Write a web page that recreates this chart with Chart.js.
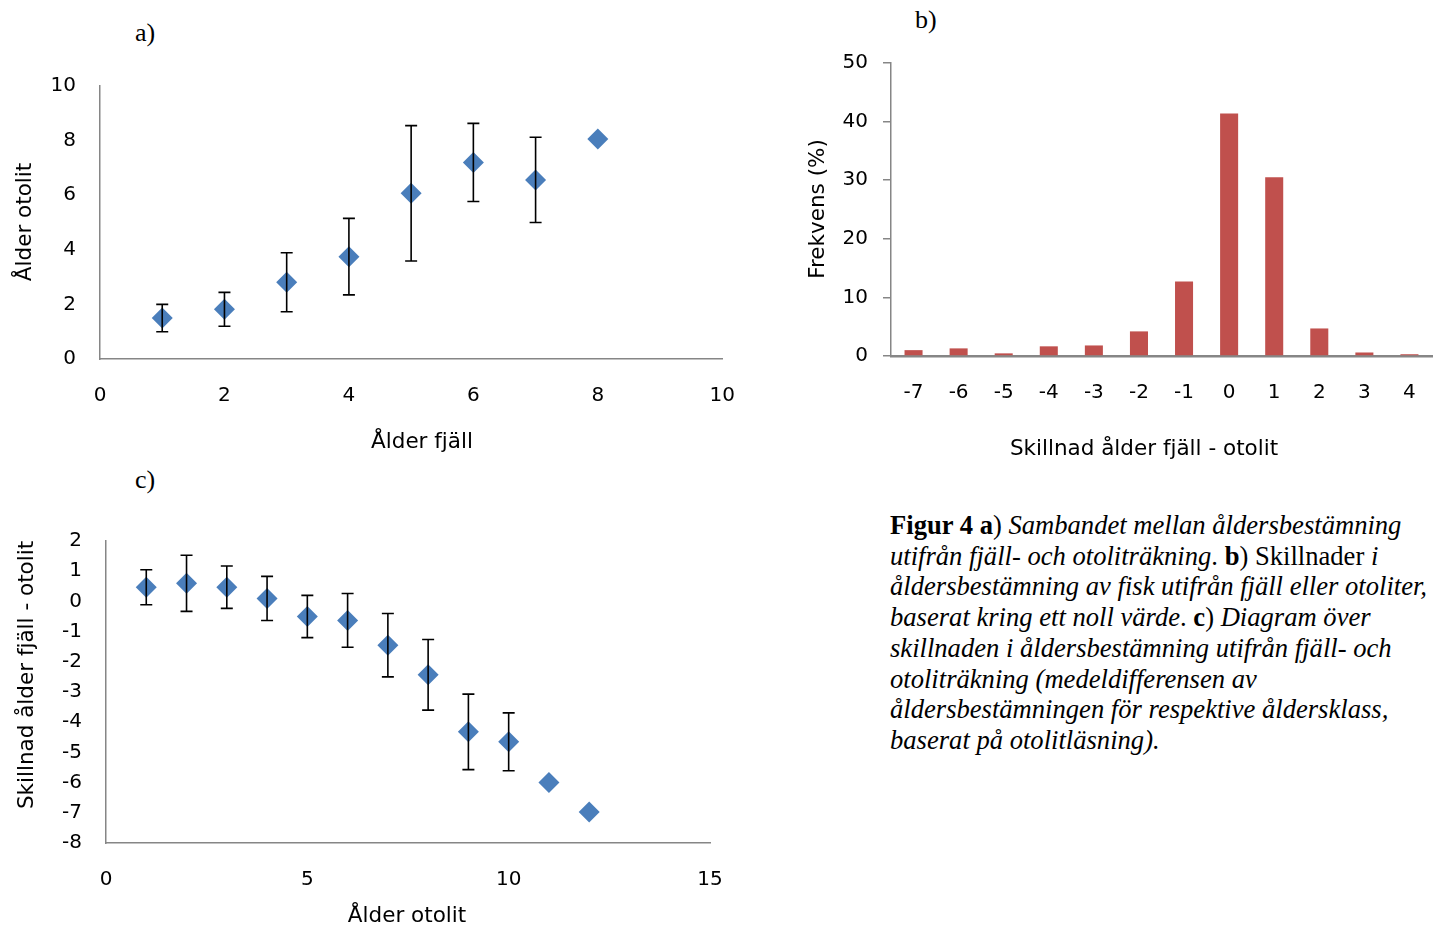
<!DOCTYPE html>
<html>
<head>
<meta charset="utf-8">
<script src="https://cdn.jsdelivr.net/npm/chart.js@4"></script>
<style>
  body { margin: 0; width: 1442px; height: 928px; background: #fff; position: relative; overflow: hidden; }
  canvas { position: absolute; }
  .lbl { position: absolute; font-family: "Liberation Serif", serif; font-size: 26px; color: #000; }
  #caption { position: absolute; left: 890px; top: 510px; font-family: "Liberation Serif", serif; font-size: 26.6px; line-height: 30.7px; color: #000; white-space: nowrap; }
</style>
</head>
<body>
<div class="lbl" style="left:135px; top:18px;">a)</div>
<div class="lbl" style="left:915px; top:5px;">b)</div>
<div class="lbl" style="left:135px; top:465px;">c)</div>
<canvas id="chartA" width="760" height="470" style="left:0; top:0;"></canvas>
<canvas id="chartB" width="662" height="480" style="left:780px; top:0;"></canvas>
<canvas id="chartC" width="760" height="458" style="left:0; top:470px;"></canvas>
<div id="caption"><b>Figur 4 a</b>) <i>Sambandet mellan åldersbestämning</i><br><i>utifrån fjäll- och otoliträkning</i>. <b>b</b>) Skillnader <i>i</i><br><i>åldersbestämning av fisk utifrån fjäll eller otoliter,</i><br><i>baserat kring ett noll värde</i>. <b>c</b>) <i>Diagram över</i><br><i>skillnaden i åldersbestämning utifrån fjäll- och</i><br><i>otoliträkning (medeldifferensen av</i><br><i>åldersbestämningen för respektive åldersklass,</i><br><i>baserat på otolitläsning).</i></div>
<script>
// a) ålder fjäll mot ålder otolit
const fjallAge = [1, 2, 3, 4, 5, 6, 7, 8];
const otolitMean = [1.5, 1.82, 2.81, 3.75, 6.07, 7.2, 6.56, 8.06];
const otolitErr = [0.5, 0.62, 1.08, 1.4, 2.48, 1.43, 1.56, 0];

// b) frekvens av skillnad
const diffLabels = ['-7', '-6', '-5', '-4', '-3', '-2', '-1', '0', '1', '2', '3', '4'];
const diffFreq = [1.0, 1.3, 0.45, 1.65, 1.8, 4.2, 12.7, 41.4, 30.5, 4.7, 0.6, 0.3];

// c) skillnad per åldersklass (otolit)
const otolitAge = [1, 2, 3, 4, 5, 6, 7, 8, 9, 10, 11, 12];
const diffMean = [0.47, 0.6, 0.47, 0.1, -0.5, -0.63, -1.45, -2.43, -4.32, -4.65, -6.0, -6.97];
const diffErr = [0.58, 0.93, 0.7, 0.73, 0.7, 0.89, 1.05, 1.17, 1.25, 0.96, 0, 0];

const blue = '#4a7ebb';
const red = '#c0504d';
const axisGrey = '#868686';
const tickFont = { family: 'DejaVu Sans', size: 20 };
const titleFontCss = '21.5px "DejaVu Sans"';

Chart.defaults.animation = false;
Chart.defaults.color = '#000';

// ritar felstaplar från dataset.errors
const errorBars = {
    id: 'errorBars',
    afterDatasetsDraw(chart) {
        const ctx = chart.ctx;
        const xs = chart.scales.x, ys = chart.scales.y;
        chart.data.datasets.forEach(ds => {
            if (!ds.errors) return;
            ctx.save();
            ctx.strokeStyle = '#000';
            ctx.lineWidth = 1.6;
            ds.data.forEach((p, i) => {
                const e = ds.errors[i];
                if (!e) return;
                const x = xs.getPixelForValue(p.x);
                const yTop = ys.getPixelForValue(p.y + e);
                const yBot = ys.getPixelForValue(p.y - e);
                ctx.beginPath();
                ctx.moveTo(x, yTop); ctx.lineTo(x, yBot);
                ctx.moveTo(x - 6, yTop); ctx.lineTo(x + 6, yTop);
                ctx.moveTo(x - 6, yBot); ctx.lineTo(x + 6, yBot);
                ctx.stroke();
            });
            ctx.restore();
        });
    }
};

// axeltitlar, placerade som i Excel-figuren
const axisTitles = {
    id: 'axisTitles',
    afterDraw(chart, args, opts) {
        const ctx = chart.ctx;
        ctx.save();
        ctx.font = titleFontCss;
        ctx.fillStyle = '#000';
        ctx.textAlign = 'center';
        ctx.textBaseline = 'middle';
        ctx.fillText(opts.x.text, opts.x.cx, opts.x.cy);
        ctx.translate(opts.y.cx, opts.y.cy);
        ctx.rotate(-Math.PI / 2);
        ctx.fillText(opts.y.text, 0, 0);
        ctx.restore();
    }
};

function scatterChart(id, xs, ys, errs, opts) {
    return new Chart(document.getElementById(id), {
        type: 'scatter',
        data: {
            datasets: [{
                data: xs.map((x, i) => ({ x: x, y: ys[i] })),
                errors: errs,
                pointStyle: 'rectRot',
                pointRadius: 10.5,
                backgroundColor: blue,
                borderColor: blue,
                borderWidth: 0
            }]
        },
        options: {
            responsive: false,
            layout: { padding: opts.padding },
            plugins: {
                legend: { display: false },
                tooltip: { enabled: false },
                axisTitles: opts.titles
            },
            scales: {
                x: {
                    min: opts.xMin, max: opts.xMax,
                    ticks: { stepSize: opts.xStep, font: tickFont, padding: 25 },
                    grid: { display: false, drawTicks: false },
                    border: { color: axisGrey, width: 1.5 },
                    afterFit: s => { s.height = opts.xHeight; }
                },
                y: {
                    min: opts.yMin, max: opts.yMax,
                    ticks: { stepSize: opts.yStep, font: tickFont, padding: 24 },
                    grid: { display: false, drawTicks: false },
                    border: { color: axisGrey, width: 1.5 },
                    afterFit: s => { s.width = opts.yWidth; }
                }
            }
        },
        plugins: [errorBars, axisTitles]
    });
}

scatterChart('chartA', fjallAge, otolitMean, otolitErr, {
    padding: { top: 86, right: 35, left: 0, bottom: 0 },
    xMin: 0, xMax: 10, xStep: 2, yMin: 0, yMax: 10, yStep: 2,
    xHeight: 111, yWidth: 100,
    titles: { x: { text: 'Ålder fjäll', cx: 422, cy: 442 }, y: { text: 'Ålder otolit', cx: 25, cy: 222 } }
});

scatterChart('chartC', otolitAge, diffMean, diffErr, {
    padding: { top: 71, right: 50, left: 0, bottom: 0 },
    xMin: 0, xMax: 15, xStep: 5, yMin: -8, yMax: 2, yStep: 1,
    xHeight: 85, yWidth: 106,
    titles: { x: { text: 'Ålder otolit', cx: 407, cy: 446 }, y: { text: 'Skillnad ålder fjäll - otolit', cx: 27, cy: 205 } }
});

new Chart(document.getElementById('chartB'), {
    type: 'bar',
    data: {
        labels: diffLabels,
        datasets: [{
            data: diffFreq,
            backgroundColor: red,
            barPercentage: 0.4,
            categoryPercentage: 1.0
        }]
    },
    options: {
        responsive: false,
        layout: { padding: { top: 63, right: 10, left: 0, bottom: 0 } },
        plugins: {
            legend: { display: false },
            tooltip: { enabled: false },
            axisTitles: { x: { text: 'Skillnad ålder fjäll - otolit', cx: 364, cy: 449 }, y: { text: 'Frekvens (%)', cx: 38, cy: 209 } }
        },
        scales: {
            x: {
                ticks: { font: tickFont, padding: 25 },
                grid: { display: false, drawTicks: false },
                border: { color: axisGrey, width: 2.5 },
                afterFit: s => { s.height = 124; }
            },
            y: {
                min: 0, max: 50,
                ticks: { stepSize: 10, font: tickFont, padding: 15 },
                grid: { drawOnChartArea: false, drawTicks: true, tickLength: 8, color: axisGrey, lineWidth: 1.5 },
                border: { color: axisGrey, width: 1.5 },
                afterFit: s => { s.width = 111; }
            }
        }
    },
    plugins: [axisTitles]
});
</script>
</body>
</html>
